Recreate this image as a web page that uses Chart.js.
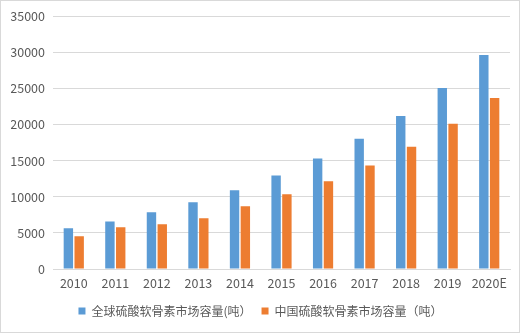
<!DOCTYPE html>
<html>
<head>
<meta charset="utf-8">
<script src="https://cdn.jsdelivr.net/npm/chart.js@4"></script>
<style>
  html, body { margin: 0; padding: 0; background: #fff; }
  #wrap {
    position: absolute; left: 0; top: 0;
    width: 518px; height: 331px;
    border: 1px solid #d9d9d9;
  }
</style>
</head>
<body>
<div id="wrap"><canvas id="marketChart"></canvas></div>
<script>
// years on the x axis
const years = ["2010", "2011", "2012", "2013", "2014", "2015", "2016", "2017", "2018", "2019", "2020E"];
// market size, tonnes
const globalVolume = [5650, 6600, 7850, 9250, 10900, 12950, 15300, 18050, 21200, 25100, 29650];
const chinaVolume  = [4550, 5800, 6200, 7050, 8700, 10350, 12150, 14350, 16950, 20150, 23700];
const yTicks = [0, 5000, 10000, 15000, 20000, 25000, 30000, 35000];

const textColor = "#595959";
const fontFamily = "'Noto Sans CJK SC', 'Noto Sans', sans-serif";

const ctx = document.getElementById("marketChart");

new Chart(ctx, {
  type: "bar",
  data: {
    labels: years,
    datasets: [
      {
        label: "全球硫酸软骨素市场容量(吨）",
        data: globalVolume,
        backgroundColor: "#5b9bd5",
        categoryPercentage: 0.52,
        barPercentage: 0.87
      },
      {
        label: "中国硫酸软骨素市场容量（吨）",
        data: chinaVolume,
        backgroundColor: "#ed7d31",
        categoryPercentage: 0.52,
        barPercentage: 0.87
      }
    ]
  },
  options: {
    responsive: true,
    maintainAspectRatio: false,
    animation: false,
    layout: { padding: { top: 14, right: 9, left: 10, bottom: 5 } },
    plugins: {
      tooltip: { enabled: false },
      legend: {
        position: "bottom",
        labels: {
          color: textColor,
          font: { family: fontFamily, size: 12 },
          boxWidth: 7,
          boxHeight: 7,
          padding: 10
        }
      }
    },
    scales: {
      x: {
        grid: { display: false, drawTicks: false },
        border: { display: true, color: "#d9d9d9" },
        ticks: {
          color: textColor,
          font: { family: fontFamily, size: 12.5 },
          padding: 7,
          maxRotation: 0,
          autoSkip: false
        },
        afterFit: scale => { scale.height = 26; }
      },
      y: {
        min: 0,
        max: 35000,
        afterBuildTicks: scale => {
          scale.ticks = yTicks.map(v => ({ value: v }));
        },
        grid: { color: "#d9d9d9", drawTicks: false },
        border: { display: false },
        ticks: {
          color: textColor,
          font: { family: fontFamily, size: 12.5 },
          padding: 8,
          callback: v => String(v)
        },
        afterFit: scale => { scale.width = 42; }
      }
    }
  }
});
</script>
</body>
</html>
